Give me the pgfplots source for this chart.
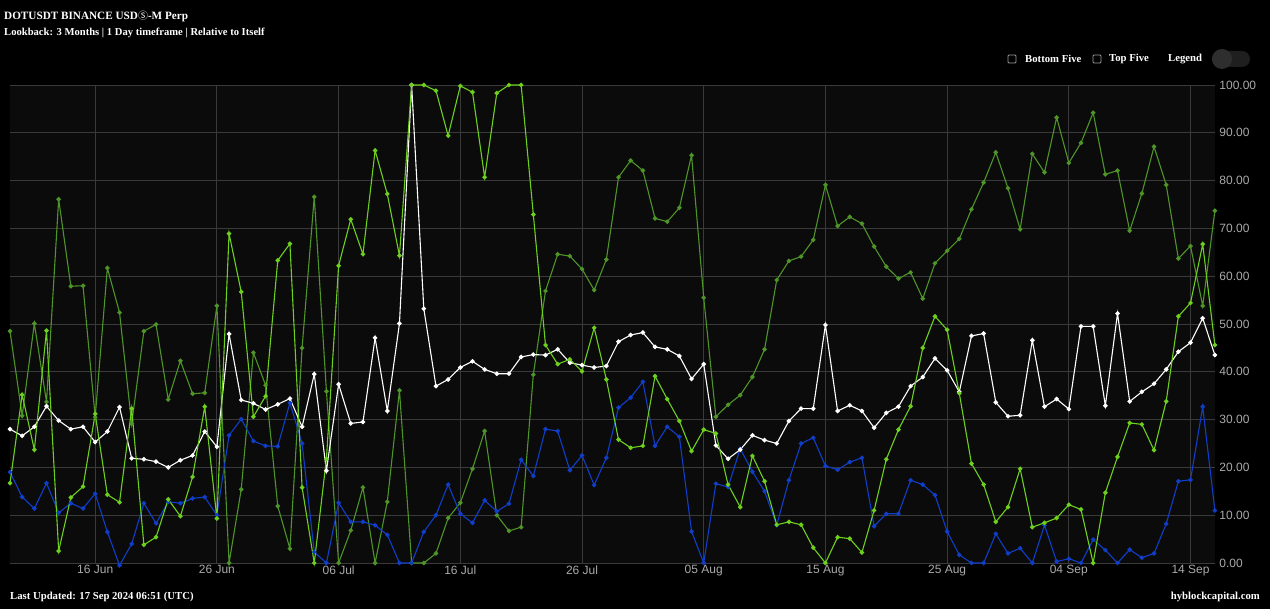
\documentclass[border=0pt]{standalone}
\usepackage{fontspec}
\setmainfont{Liberation Serif}
\newfontfamily\axfont{Liberation Sans}
\newfontfamily\symfont{Noto Sans CJK SC}
\usepackage{pgfplots}
\pgfplotsset{compat=1.18}
\usepackage{pgfplotstable}
\definecolor{bgreen}{RGB}{110,208,30}
\definecolor{dgreen}{RGB}{78,148,40}
\definecolor{sblue}{RGB}{16,62,200}
\definecolor{gridc}{RGB}{58,58,58}
\definecolor{tickc}{RGB}{170,170,170}
\definecolor{plotbg}{RGB}{11,11,11}

\pgfplotstableread{
i B D W L
0 16.7 48.5 28.0 19.0
1 35.2 30.8 26.6 13.8
2 23.7 50.1 28.5 11.4
3 48.6 33.7 32.8 16.7
4 2.5 76.1 29.8 10.5
5 13.7 57.9 28.0 12.5
6 16.0 58.0 28.5 11.4
7 31.2 30.5 25.3 14.5
8 14.3 61.7 27.5 6.5
9 12.7 52.4 32.6 -0.5
10 32.3 29.1 21.9 4.0
11 3.8 48.5 21.7 12.5
12 5.4 49.9 21.2 8.3
13 13.3 34.2 20.0 12.8
14 9.8 42.3 21.5 12.5
15 18.0 35.4 22.5 13.5
16 32.7 35.6 27.5 13.8
17 9.3 53.8 24.3 10.0
18 68.9 0 47.9 26.7
19 56.7 15.4 34.1 30.1
20 30.6 44.0 33.4 25.5
21 34.9 37.2 32.1 24.5
22 63.3 11.9 33.2 24.4
23 66.8 3.0 34.4 33.5
24 15.8 45.0 28.5 25.0
25 0 76.6 39.5 2.3
26 21.8 35.9 19.3 0
27 62.2 0 37.4 12.6
28 71.9 6.8 29.2 8.6
29 64.6 15.8 29.5 8.6
30 86.3 0 47.1 7.9
31 77.2 12.8 31.8 5.9
32 64.3 36.1 50.1 0
33 100 0 100 0
34 100 0 53.2 6.5
35 98.8 2.0 37.0 10.0
36 89.4 9.4 38.4 16.4
37 99.8 12.6 40.9 10.3
38 98.5 19.7 42.2 8.4
39 80.7 27.6 40.5 13.1
40 98.3 10.0 39.6 10.8
41 100 6.7 39.6 12.4
42 100 7.5 43.1 21.6
43 72.9 39.4 43.6 18.2
44 45.6 56.9 43.5 28.0
45 41.6 64.6 44.7 27.6
46 42.6 64.2 41.9 19.4
47 40.1 61.5 41.4 22.5
48 49.2 57.1 40.9 16.3
49 38.4 63.5 41.2 22.0
50 25.8 80.7 46.3 32.5
51 24.1 84.2 47.7 34.6
52 24.5 82.1 48.2 37.9
53 39.1 72.1 45.2 24.5
54 34.3 71.4 44.7 28.5
55 29.7 74.3 43.3 26.4
56 23.4 85.3 38.5 6.6
57 27.9 55.5 41.6 0
58 27.1 30.6 24.6 16.6
59 16.4 33.1 21.8 15.9
60 11.7 35.1 23.7 23.9
61 22.4 38.9 26.7 19.1
62 17.1 44.7 25.7 15.0
63 8.0 59.2 25.0 7.9
64 8.6 63.2 29.7 17.3
65 8.0 64.1 32.3 25.0
66 3.2 67.6 32.3 26.2
67 0 79.1 49.8 20.3
68 5.4 70.5 31.8 19.5
69 5.1 72.4 33.0 21.1
70 2.2 71.0 31.8 22.0
71 11.0 66.2 28.3 7.7
72 21.7 62.0 31.4 10.3
73 27.9 59.5 32.7 10.3
74 32.8 60.8 37.0 17.3
75 45.0 55.3 38.9 16.4
76 51.6 62.7 42.8 14.2
77 48.8 65.3 40.3 6.6
78 35.5 67.8 35.8 1.7
79 20.8 74.0 47.5 0
80 16.4 79.6 48.0 0
81 8.6 85.9 33.6 6.1
82 11.7 78.4 30.7 2.0
83 19.7 69.8 30.9 3.1
84 7.5 85.6 46.6 0
85 8.4 81.7 32.7 7.9
86 9.4 93.2 34.3 0.3
87 12.2 83.7 32.2 0.9
88 11.2 87.9 49.5 0
89 0 94.2 49.5 4.9
90 14.7 81.3 32.9 2.7
91 22.2 82.1 52.2 0
92 29.3 69.5 33.8 2.8
93 29.0 77.3 35.8 1.1
94 23.6 87.1 37.5 2.0
95 33.8 79.1 40.5 8.2
96 51.6 63.7 44.2 17.1
97 54.4 66.3 46.1 17.4
98 66.7 53.8 51.2 32.7
99 45.6 73.7 43.5 11.0
}\data

\begin{document}
\begin{tikzpicture}
\fill[black] (0pt,0pt) rectangle (1270pt,609pt);
% header
\node[anchor=west, text=white, inner sep=0pt, font=\fontsize{11.2}{13}\selectfont\bfseries] at (4pt,593pt) {DOTUSDT BINANCE USD{\symfont\mdseries\fontsize{10}{12}\selectfont Ⓢ}-M Perp};
\node[anchor=west, text=white, inner sep=0pt, font=\fontsize{10.6}{13}\selectfont\bfseries] at (4pt,576pt) {Lookback: 3 Months | 1 Day timeframe | Relative to Itself};
% legend controls
\draw[gray!80, line width=0.8pt, rounded corners=1pt] (1008pt,546pt) rectangle (1016pt,554pt);
\node[anchor=west, text=white, inner sep=0pt, font=\fontsize{10.7}{12}\selectfont\bfseries] at (1025pt,550pt) {Bottom Five};
\draw[gray!80, line width=0.8pt, rounded corners=1pt] (1093pt,546pt) rectangle (1101pt,554pt);
\node[anchor=west, text=white, inner sep=0pt, font=\fontsize{10.7}{12}\selectfont\bfseries] at (1109pt,550pt) {Top Five};
\node[anchor=west, text=white, inner sep=0pt, font=\fontsize{10.7}{12}\selectfont\bfseries] at (1168pt,550pt) {Legend};
\fill[black!88!white, rounded corners=8pt] (1212pt,542pt) rectangle (1250pt,558pt);
\fill[black!82!white] (1222pt,550pt) circle (10pt);
% footer
\node[anchor=west, text=white, inner sep=0pt, font=\fontsize{10.7}{13}\selectfont\bfseries] at (10pt,12pt) {Last Updated: 17 Sep 2024 06:51 (UTC)};
\node[anchor=east, text=white, inner sep=0pt, font=\fontsize{10.7}{13}\selectfont\bfseries] at (1260pt,12pt) {hyblockcapital.com};
\begin{axis}[
  at={(10pt,46pt)}, anchor=south west,
  width=1205pt, height=478pt, scale only axis,
  xmin=0, xmax=99, ymin=0, ymax=100,
  clip=false,
  axis background/.style={fill=plotbg},
  axis line style={draw=none},
  major tick length=0pt,
  grid=major,
  grid style={gridc, line width=0.8pt},
  xtick={7,17,27,37,47,57,67,77,87,97},
  xticklabels={16 Jun,26 Jun,06 Jul,16 Jul,26 Jul,05 Aug,15 Aug,25 Aug,04 Sep,14 Sep},
  ytick={0,10,...,100},
  yticklabel pos=right,
  /pgf/number format/assume math mode=true,
  yticklabel={\pgfmathprintnumber[fixed,fixed zerofill,precision=2]{\tick}},
  tick label style={font=\axfont\fontsize{12}{14}\selectfont, text=tickc},
  x tick label style={yshift=1pt},
  y tick label style={xshift=1pt},
]
\addplot[dgreen, line width=1.1pt, mark=*, mark size=1.7pt] table[x=i,y=D]{\data};
\addplot[sblue, line width=1.1pt, mark=*, mark size=1.7pt] table[x=i,y=L]{\data};
\addplot[white, line width=1.1pt, mark=*, mark size=1.7pt] table[x=i,y=W]{\data};
\addplot[bgreen, line width=1.1pt, mark=*, mark size=1.7pt] table[x=i,y=B]{\data};
\end{axis}
\end{tikzpicture}
\end{document}
